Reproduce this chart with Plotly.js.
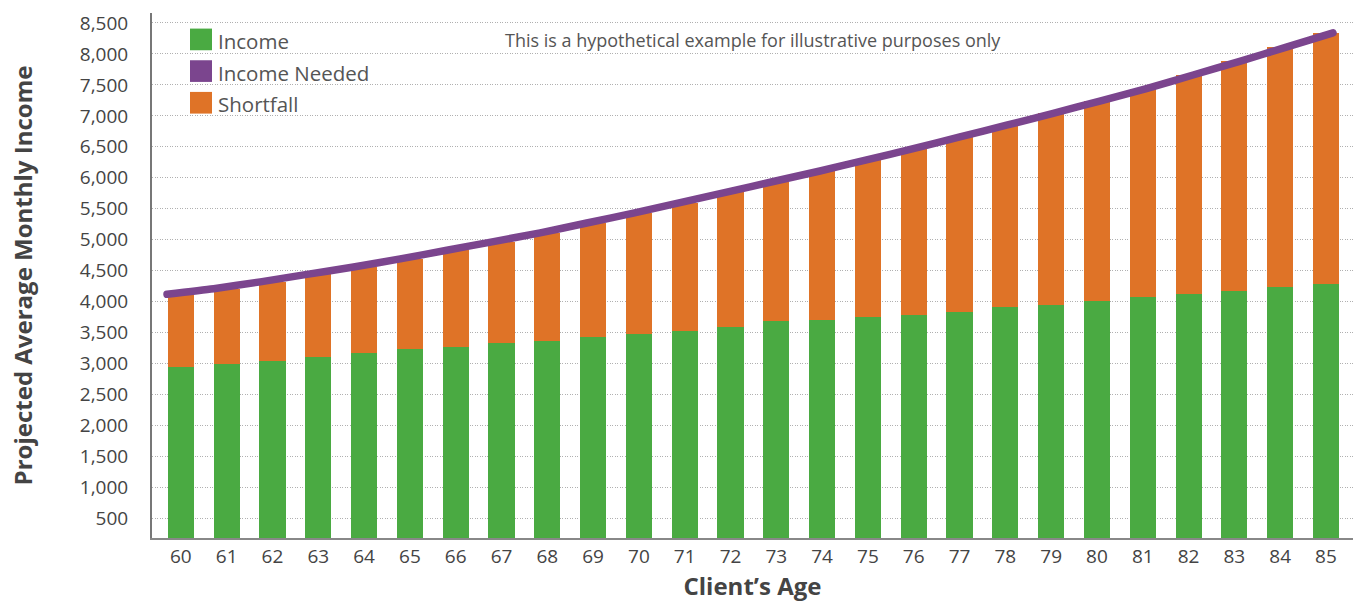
<!DOCTYPE html>
<html>
<head>
<meta charset="utf-8">
<script src="https://cdn.plot.ly/plotly-3.0.1.min.js"></script>
<style>
  html, body { margin: 0; padding: 0; background: #fff; }
  #chart { width: 1353px; height: 602px; }
  #chart .scatterlayer .js-line { stroke-linecap: round; }
</style>
</head>
<body>
<div id="chart"></div>
<script>
// ---- Data ----
const ages = [60, 61, 62, 63, 64, 65, 66, 67, 68, 69, 70, 71, 72, 73, 74, 75, 76, 77, 78, 79, 80, 81, 82, 83, 84, 85];
const income = [2950, 3000, 3040, 3100, 3170, 3240, 3270, 3330, 3370, 3430, 3480, 3530, 3590, 3680, 3710, 3750, 3790, 3840, 3910, 3950, 4010, 4080, 4130, 4170, 4240, 4280];
const incomeNeeded = [4120, 4210, 4320, 4440, 4560, 4690, 4830, 4970, 5110, 5270, 5430, 5600, 5770, 5940, 6110, 6290, 6470, 6660, 6850, 7040, 7240, 7440, 7660, 7880, 8110, 8340];
const shortfall = incomeNeeded.map((v, i) => v - income[i]);
const yTickVals = [500, 1000, 1500, 2000, 2500, 3000, 3500, 4000, 4500, 5000, 5500, 6000, 6500, 7000, 7500, 8000, 8500];
const seriesNames = ["Income", "Income Needed", "Shortfall"];
const noteText = "This is a hypothetical example for illustrative purposes only";
const xTitle = "Client’s Age";
const yTitle = "Projected Average Monthly Income";

// ---- Styles ----
const GREEN = "#4aaa42", ORANGE = "#df7327", PURPLE = "#7b458e";
const FONT = "Open Sans, Noto Sans, sans-serif";

const traces = [
  { type: "bar", name: seriesNames[0], x: ages, y: income, marker: { color: GREEN }, width: 0.57, hoverinfo: "x+y" },
  { type: "bar", name: seriesNames[2], x: ages, y: shortfall, marker: { color: ORANGE }, width: 0.57, hoverinfo: "x+y" },
  { type: "scatter", mode: "lines", name: seriesNames[1], x: ages, y: incomeNeeded, xaxis: "x2",
    line: { color: PURPLE, width: 7.5, shape: "spline", smoothing: 0.6 } }
];

// legend built from shapes + annotations (square swatches like the reference)
const legendColors = [GREEN, PURPLE, ORANGE];
const legendNames = [seriesNames[0], seriesNames[1], seriesNames[2]];
const W = 1201, H = 525.6, L = 152, B = 538.3;
const px = v => (v - L) / W;
const py = v => (B - v) / H;
const shapes = [];
const annotations = [];
legendNames.forEach((n, i) => {
  const top = 28.3 + i * 31.7;
  shapes.push({ type: "rect", xref: "paper", yref: "paper", x0: px(190), x1: px(212), y0: py(top + 21.7), y1: py(top),
    fillcolor: legendColors[i], line: { width: 0 } });
  annotations.push({ xref: "paper", yref: "paper", x: px(216), y: py(top + 12.5), xanchor: "left", yanchor: "middle",
    text: n, showarrow: false, font: { family: FONT, size: 20.5, color: "#555" } });
});
annotations.push({ xref: "paper", yref: "paper", x: px(752.8), y: py(40), xanchor: "center", yanchor: "middle",
  text: noteText, showarrow: false, font: { family: FONT, size: 18, color: "#555" } });

const layout = {
  width: 1353, height: 602,
  margin: { l: 152, r: 0, t: 12.7, b: 63.7 },
  paper_bgcolor: "#fff", plot_bgcolor: "#fff",
  barmode: "stack",
  showlegend: false,
  font: { family: FONT, color: "#444" },
  xaxis: {
    range: [59.37, 85.59], tickmode: "array", tickvals: ages, ticktext: ages.map(String),
    showgrid: false, zeroline: false, showline: true, linecolor: "#888", linewidth: 2,
    ticks: "", tickfont: { family: FONT, size: 19, color: "#444" },
    title: { text: xTitle, font: { family: FONT, size: 24, color: "#444", weight: "bold" }, standoff: 10 }
  },
  xaxis2: { overlaying: "x", range: [59.678, 85.429], visible: false },
  yaxis: {
    range: [184, 8661], tickmode: "array", tickvals: yTickVals, tickformat: ",",
    showgrid: true, gridcolor: "#b0b0b0", griddash: "1px,1.5px", gridwidth: 1,
    zeroline: false, showline: true, linecolor: "#777", linewidth: 2,
    ticks: "", ticklabelstandoff: 18, tickfont: { family: FONT, size: 19, color: "#444" },
    title: { text: yTitle, font: { family: FONT, size: 24, color: "#444", weight: "bold" }, standoff: 40 }
  },
  shapes: shapes,
  annotations: annotations
};

Plotly.newPlot("chart", traces, layout, { displayModeBar: false, staticPlot: true });
</script>
</body>
</html>
